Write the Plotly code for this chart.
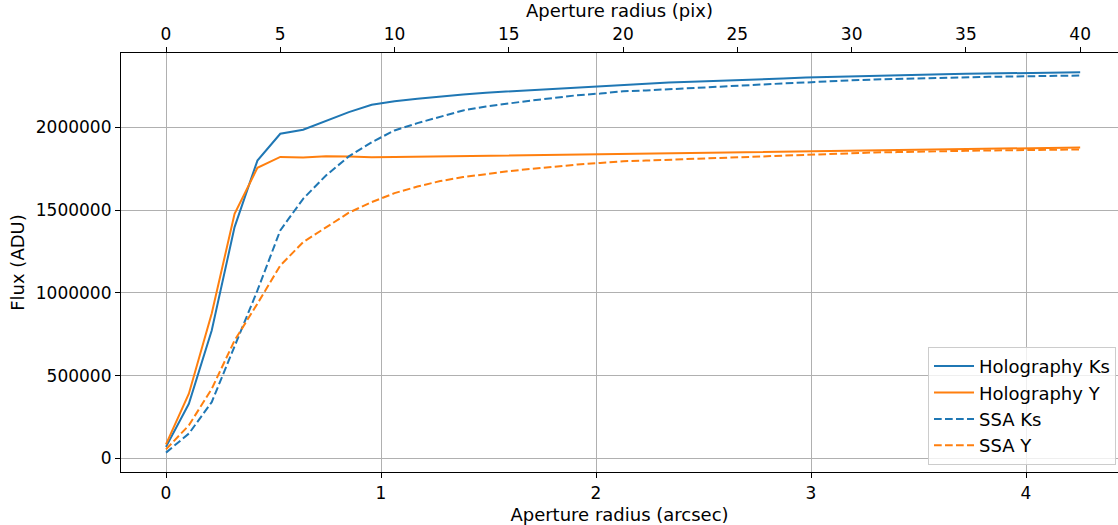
import plotly.graph_objects as go

pix = list(range(41))
pixscale = 0.1063  # arcsec per pixel

holo_ks = [70000, 330000, 773000, 1398000, 1800000, 1962000, 1986000, 2038000, 2093000, 2137000,
           2159000, 2173000, 2187000, 2199000, 2210000, 2218000, 2226000, 2234000, 2244000, 2252000,
           2260000, 2266000, 2272000, 2276000, 2280000, 2286000, 2290000, 2296000, 2302000, 2306000,
           2310000, 2314000, 2316000, 2318000, 2322000, 2324000, 2326000, 2328000, 2330000, 2332000,
           2334000]
holo_y = [85000, 391000, 876000, 1478000, 1756000, 1822000, 1818000, 1826000, 1824000, 1820000,
          1821000, 1823000, 1825000, 1827000, 1829000, 1831000, 1833000, 1835000, 1837000, 1839000,
          1841000, 1842000, 1844000, 1845000, 1848000, 1850000, 1853000, 1856000, 1858000, 1861000,
          1863000, 1865000, 1867000, 1869000, 1871000, 1873000, 1874000, 1875000, 1876000, 1877000,
          1879000]
ssa_ks = [35000, 150000, 340000, 683000, 1015000, 1378000, 1569000, 1710000, 1825000, 1911000,
          1982000, 2026000, 2066000, 2103000, 2127000, 2147000, 2163000, 2179000, 2195000, 2205000,
          2219000, 2224000, 2231000, 2240000, 2248000, 2256000, 2262000, 2266000, 2272000, 2280000,
          2285000, 2290000, 2294000, 2296000, 2300000, 2302000, 2306000, 2308000, 2310000, 2312000,
          2314000]
ssa_y = [55000, 200000, 420000, 713000, 935000, 1166000, 1307000, 1398000, 1485000, 1549000,
         1603000, 1643000, 1676000, 1700000, 1720000, 1736000, 1750000, 1764000, 1776000, 1786000,
         1796000, 1800000, 1805000, 1811000, 1817000, 1821000, 1825000, 1829000, 1833000, 1839000,
         1845000, 1849000, 1851000, 1855000, 1857000, 1859000, 1861000, 1863000, 1865000, 1866000,
         1867000]

series = [
    ("Holography Ks", holo_ks, "#1f77b4", "solid"),
    ("Holography Y", holo_y, "#ff7f0e", "solid"),
    ("SSA Ks", ssa_ks, "#1f77b4", "7.7px,3.3px"),
    ("SSA Y", ssa_y, "#ff7f0e", "7.7px,3.3px"),
]

arcsec = [p * pixscale for p in pix]

FONT = "DejaVu Sans"
FS = 17
TFS = 18

fig = go.Figure()
for name, vals, color, dash in series:
    fig.add_trace(go.Scatter(x=arcsec, y=vals, mode="lines", name=name,
                             line=dict(color=color, width=2, dash=dash)))

# invisible trace to carry the top (pixel) axis
fig.add_trace(go.Scatter(x=pix, y=holo_ks, xaxis="x2", mode="lines",
                         line=dict(width=0, color="rgba(0,0,0,0)"),
                         showlegend=False, hoverinfo="skip"))

W, H = 1118, 525
ml, mr, mt, mb = 121, 0, 53, 53
x0 = -0.2093
x1 = (W - 166) / 215.0
xr = [x0, x1]

fig.update_layout(
    width=W, height=H,
    margin=dict(l=ml, r=mr, t=mt, b=mb),
    paper_bgcolor="white", plot_bgcolor="white",
    font=dict(family=FONT, size=FS, color="black"),
    xaxis=dict(range=xr, tickvals=[0, 1, 2, 3, 4], showgrid=True, gridcolor="#b0b0b0",
               gridwidth=1, zeroline=False, showline=True, linecolor="black", linewidth=1.2,
               ticks="outside", ticklen=5, tickcolor="black",
               title=dict(text="Aperture radius (arcsec)", standoff=6, font=dict(size=TFS))),
    xaxis2=dict(range=[x0 / pixscale, x1 / pixscale], overlaying="x", side="top",
                tickvals=[0, 5, 10, 15, 20, 25, 30, 35, 40], showgrid=False, zeroline=False,
                showline=True, linecolor="black", linewidth=1.2,
                ticks="outside", ticklen=5, tickcolor="black",
                title=dict(text="Aperture radius (pix)", standoff=4, font=dict(size=TFS))),
    yaxis=dict(range=[-82000, 2450000], tickvals=[0, 500000, 1000000, 1500000, 2000000],
               tickformat="d", showgrid=True, gridcolor="#b0b0b0", gridwidth=1,
               zeroline=False, showline=True, linecolor="black", linewidth=1.2,
               ticks="outside", ticklen=5, tickcolor="black",
               title=dict(text="Flux (ADU)", standoff=6, font=dict(size=TFS))),
    legend=dict(x=0.998, xanchor="right", y=0.017, yanchor="bottom",
                bgcolor="rgba(255,255,255,0.8)", bordercolor="#cccccc", borderwidth=1,
                font=dict(family=FONT, size=18), itemwidth=40),
    showlegend=True,
)

fig.write_html("out.html")
